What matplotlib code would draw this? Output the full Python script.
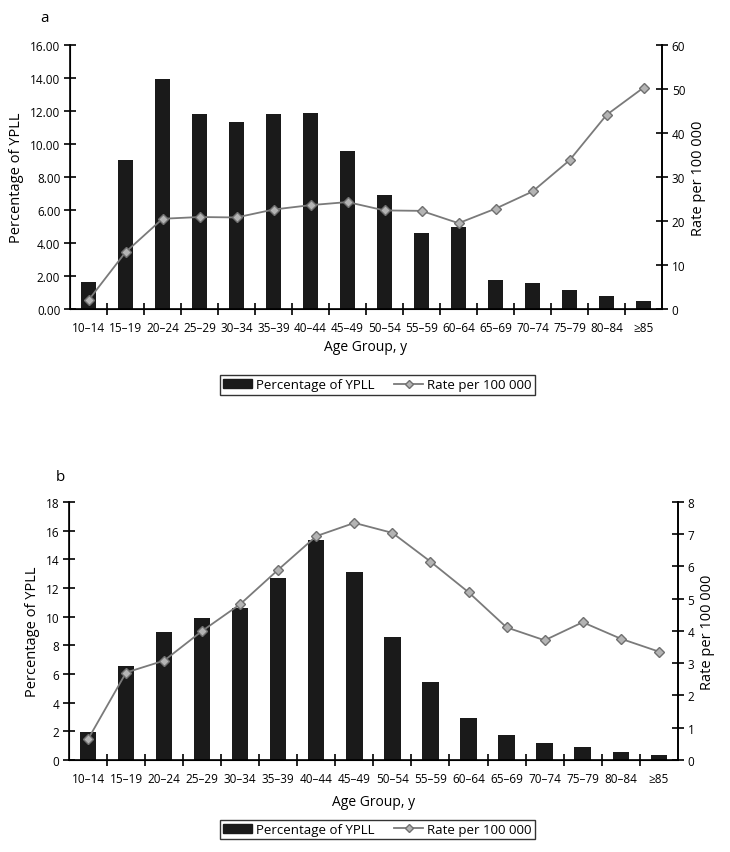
import matplotlib.pyplot as plt
import numpy as np
from matplotlib.patches import Patch
from matplotlib.lines import Line2D

plt.rcParams['font.family'] = ['Open Sans', 'DejaVu Sans']

ages = ['10\u201314', '15\u201319', '20\u201324', '25\u201329', '30\u201334', '35\u201339',
        '40\u201344', '45\u201349', '50\u201354', '55\u201359', '60\u201364', '65\u201369',
        '70\u201374', '75\u201379', '80\u201384', '\u226585']

# panel a
pct_a = [1.66, 9.01, 13.92, 11.82, 11.35, 11.82, 11.88, 9.60,
         6.91, 4.59, 4.99, 1.78, 1.56, 1.17, 0.77, 0.46]
rate_a = [2.0, 12.9, 20.5, 20.9, 20.8, 22.6, 23.6, 24.3,
          22.4, 22.3, 19.5, 22.8, 26.7, 33.8, 44.1, 50.3]

# panel b
pct_b = [1.98, 6.53, 8.90, 9.93, 10.58, 12.72, 15.33, 13.14,
         8.56, 5.42, 2.91, 1.77, 1.21, 0.91, 0.58, 0.37]
rate_b = [0.64, 2.71, 3.08, 4.00, 4.83, 5.90, 6.94, 7.35,
          7.04, 6.15, 5.20, 4.11, 3.71, 4.27, 3.76, 3.36]

bar_col = '#1a1a1a'
line_col = '#7a7a7a'

fig = plt.figure(figsize=(7.3, 8.53), dpi=100)


def panel(rect, pct, rate, ylim_l, yticks_l, fmt_l, ylim_r, yticks_r, letter, letter_xy, xlpad):
    ax = fig.add_axes(rect)
    x = np.arange(len(ages))
    ax.bar(x, pct, width=0.43, color=bar_col, zorder=2)
    ax.set_xlim(-0.5, len(ages) - 0.5)
    ax.set_ylim(*ylim_l)
    ax.set_yticks(yticks_l)
    ax.set_yticklabels([fmt_l.format(v) for v in yticks_l], fontsize=8.5)
    ax.set_xticks(x)
    ax.set_xticklabels(ages, fontsize=8.5)
    ax.tick_params(axis='x', which='major', length=0, pad=9)
    ax.set_xticks(np.arange(0.5, len(ages) - 1, 1.0), minor=True)
    ax.tick_params(axis='x', which='minor', direction='inout', length=8, width=1.2)
    ax.tick_params(axis='y', direction='inout', length=8, width=1.2, pad=3)
    ax.spines['top'].set_visible(False)
    for s in ['left', 'bottom', 'right']:
        ax.spines[s].set_linewidth(1.2)
    ax.set_ylabel('Percentage of YPLL', fontsize=10.5, labelpad=4)
    ax.set_xlabel('Age Group, y', fontsize=10, labelpad=xlpad)

    ax2 = ax.twinx()
    ax2.plot(x, rate, color=line_col, lw=1.3, marker='D', ms=5,
             mfc='#b4b4b4', mec='#707070', mew=1.0, zorder=3)
    ax2.set_ylim(*ylim_r)
    ax2.set_yticks(yticks_r)
    ax2.set_yticklabels([str(v) for v in yticks_r], fontsize=8.5)
    ax2.tick_params(axis='y', direction='inout', length=8, width=1.2, pad=3)
    ax2.spines['top'].set_visible(False)
    ax2.spines['right'].set_linewidth(1.2)
    ax2.set_ylabel('Rate per 100 000', fontsize=10.5, labelpad=4)

    fig.text(letter_xy[0], letter_xy[1], letter, fontsize=11, ha='left', va='center')
    return ax


panel([0.0959, 0.6366, 0.811, 0.3095], pct_a, rate_a, (0, 16),
      [0, 2, 4, 6, 8, 10, 12, 14, 16], '{:.2f}',
      (0, 60), [0, 10, 20, 30, 40, 50, 60], 'a', (0.055, 0.978), 3)
panel([0.0945, 0.1079, 0.834, 0.3025], pct_b, rate_b, (0, 18),
      [0, 2, 4, 6, 8, 10, 12, 14, 16, 18], '{:d}',
      (0, 8), [0, 1, 2, 3, 4, 5, 6, 7, 8], 'b', (0.077, 0.44), 6)

handles = [Patch(facecolor=bar_col, edgecolor=bar_col),
           Line2D([], [], color=line_col, lw=1.3, marker='D', ms=4,
                  mfc='#b4b4b4', mec='#707070')]
labels = ['Percentage of YPLL', 'Rate per 100 000']
for yc in [0.5475, 0.0265]:
    leg = fig.legend(handles, labels, loc='center', bbox_to_anchor=(0.517, yc),
                     ncol=2, fontsize=9.5, frameon=True, fancybox=False,
                     edgecolor='black', handlelength=2.2, handletextpad=0.3,
                     columnspacing=1.5, borderpad=0.25)
    leg.get_frame().set_linewidth(1.0)

fig.savefig('out.png', dpi=100)
